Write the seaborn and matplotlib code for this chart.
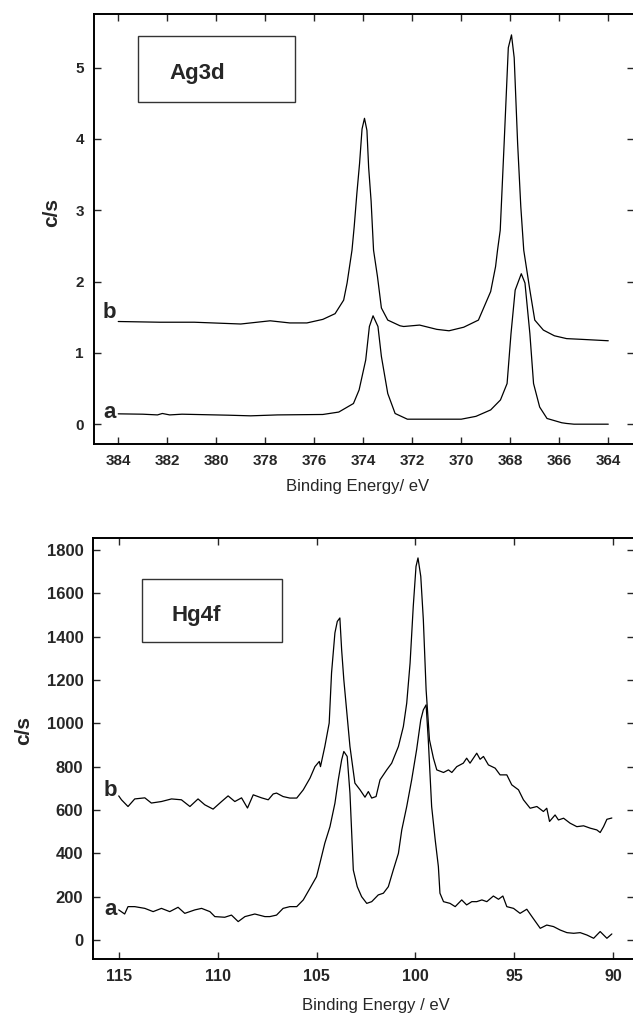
import matplotlib.pyplot as plt
import matplotlib.patches as mpatches
import pandas as pd
import seaborn as sns

# Ag3d spectra (binding energy in eV, counts in c/s)
ag_a_be = [384.0, 383.0, 382.4, 382.2, 381.9, 381.4, 379.5, 378.6, 377.5, 375.65, 375.0,
           374.4, 374.17, 373.9, 373.75, 373.6, 373.4, 373.26, 373.0, 372.7, 372.2, 370.0,
           369.4, 368.8, 368.4, 368.13, 367.97, 367.8, 367.55, 367.4, 367.2, 367.05, 366.8,
           366.5, 365.9, 365.7, 365.4, 364.0]
ag_a_cps = [0.145, 0.14, 0.13, 0.15, 0.13, 0.14, 0.126, 0.117, 0.13, 0.136, 0.17,
            0.29, 0.48, 0.9, 1.37, 1.52, 1.37, 0.95, 0.43, 0.15, 0.07, 0.07,
            0.11, 0.2, 0.34, 0.57, 1.27, 1.88, 2.11, 1.98, 1.27, 0.57, 0.24,
            0.08, 0.02, 0.01, 0.0, 0.0]

ag_b_be = [384.0, 382.3, 380.9, 379.0, 377.8, 377.0, 376.3, 375.65, 375.15, 374.8, 374.66,
           374.46, 374.37, 374.26, 374.15, 374.05, 373.95, 373.85, 373.78, 373.68, 373.58,
           373.42, 373.26, 373.0, 372.5, 372.35, 371.7, 371.0, 370.5, 369.9, 369.3, 368.8,
           368.6, 368.52, 368.41, 368.25, 368.08, 367.95, 367.84, 367.7, 367.57, 367.45,
           367.2, 367.0, 366.65, 366.2, 365.7, 365.1, 364.0]
ag_b_cps = [1.44, 1.43, 1.43, 1.405, 1.45, 1.42, 1.42, 1.47, 1.55, 1.74, 1.98,
            2.44, 2.77, 3.24, 3.66, 4.14, 4.29, 4.12, 3.6, 3.13, 2.44,
            2.07, 1.63, 1.46, 1.38, 1.37, 1.39, 1.33, 1.31, 1.36, 1.46, 1.86,
            2.21, 2.44, 2.72, 3.94, 5.28, 5.46, 5.14, 3.94, 3.05, 2.44,
            1.88, 1.46, 1.32, 1.24, 1.2, 1.19, 1.17]

# Hg4f spectra
hg_a_be = [115.0, 114.7, 114.53, 114.19, 113.68, 113.26, 112.84, 112.42, 112.0, 111.66,
           111.15, 110.81, 110.39, 110.14, 109.64, 109.3, 108.96, 108.62, 108.12, 107.61,
           107.36, 107.02, 106.69, 106.35, 106.0, 105.67, 105.33, 105.0, 104.83, 104.58,
           104.32, 104.07, 103.9, 103.73, 103.62, 103.45, 103.31, 103.14, 102.94, 102.72,
           102.46, 102.21, 101.88, 101.62, 101.37, 101.12, 100.86, 100.69, 100.44, 100.19,
           99.94, 99.73, 99.6, 99.46, 99.35, 99.18, 99.0, 98.84, 98.76, 98.58, 98.25,
           97.99, 97.66, 97.41, 97.15, 96.9, 96.64, 96.39, 96.06, 95.8, 95.58, 95.38,
           95.04, 94.71, 94.37, 94.11, 93.69, 93.36, 93.02, 92.68, 92.34, 92.0, 91.67,
           91.33, 90.99, 90.66, 90.32, 90.07]
hg_a_cps = [139, 120, 154, 154, 146, 131, 146, 131, 151, 123,
            139, 146, 131, 108, 105, 115, 85, 108, 120, 108,
            108, 115, 146, 154, 154, 185, 239, 292, 354, 447,
            523, 631, 739, 831, 870, 847, 678, 323, 246, 200,
            169, 177, 208, 216, 246, 323, 400, 508, 616, 739,
            878, 1016, 1062, 1085, 924, 616, 462, 339, 216, 177, 169,
            154, 185, 162, 177, 177, 185, 177, 203, 188, 203, 154,
            146, 123, 142, 108, 54, 69, 62, 46, 34, 31, 34,
            23, 8, 39, 8, 28]

hg_b_be = [115.0, 114.86, 114.53, 114.19, 113.68, 113.35, 112.84, 112.33, 111.83, 111.4,
           110.99, 110.65, 110.23, 109.8, 109.47, 109.13, 108.79, 108.49, 108.2, 107.78,
           107.44, 107.19, 107.02, 106.69, 106.35, 106.0, 105.67, 105.33, 105.08, 104.86,
           104.8, 104.58, 104.36, 104.24, 104.07, 103.95, 103.82, 103.73, 103.62, 103.48,
           103.31, 103.06, 102.8, 102.55, 102.38, 102.21, 101.99, 101.79, 101.45, 101.2,
           100.86, 100.61, 100.44, 100.27, 100.11, 99.97, 99.87, 99.73, 99.6, 99.46,
           99.29, 99.09, 98.92, 98.58, 98.33, 98.16, 97.91, 97.58, 97.41, 97.24, 96.9,
           96.73, 96.56, 96.31, 95.97, 95.72, 95.38, 95.13, 94.79, 94.54, 94.2, 93.86,
           93.53, 93.36, 93.22, 92.94, 92.77, 92.51, 92.18, 91.84, 91.5, 91.16, 90.83,
           90.66, 90.49, 90.32, 90.07]
hg_b_cps = [665, 647, 616, 651, 656, 632, 639, 651, 647, 616,
            651, 624, 604, 639, 665, 639, 656, 609, 670, 656,
            647, 674, 678, 662, 655, 655, 693, 747, 800, 824,
            800, 893, 1001, 1233, 1417, 1470, 1486, 1339, 1201, 1062,
            893, 724, 693, 659, 685, 655, 662, 739, 785, 816,
            893, 985, 1093, 1278, 1539, 1724, 1763, 1678, 1478, 1155,
            924, 839, 785, 773, 785, 773, 800, 816, 839, 816, 862,
            834, 847, 808, 793, 762, 762, 716, 693, 647, 608, 616,
            593, 608, 547, 577, 554, 562, 539, 523, 527, 516, 508,
            496, 523, 557, 563]

ag_xticks = [384, 382, 380, 378, 376, 374, 372, 370, 368, 366, 364]
ag_yticks = [0, 1, 2, 3, 4, 5]
hg_xticks = [115, 110, 105, 100, 95, 90]
hg_yticks = [0, 200, 400, 600, 800, 1000, 1200, 1400, 1600, 1800]


def make_df(be, cps):
    return pd.DataFrame({'BE': be, 'cps': cps})


def style_axes(ax, xticks, yticks, xsize, ysize):
    ax.set_xticks(xticks)
    ax.set_yticks(yticks)
    ax.tick_params(direction='in', top=True, right=True, length=5, width=1, pad=7)
    ax.tick_params(axis='x', labelsize=xsize)
    ax.tick_params(axis='y', labelsize=ysize)
    for side in ['left', 'bottom', 'top', 'right']:
        ax.spines[side].set_linewidth(1.4)
        ax.spines[side].set_color('black')


def main():
    sns.set_style("ticks")
    plt.rcParams['font.family'] = ['Liberation Sans', 'DejaVu Sans']
    plt.rcParams['font.weight'] = 'bold'

    fig = plt.figure(figsize=(6.33, 10.13), dpi=100)
    W, H = 633.0, 1013.0

    # --- Ag3d ---
    ax1 = fig.add_axes([93.5 / W, 1 - 444 / H, 540.5 / W, 430 / H])
    for be, cps in [(ag_a_be, ag_a_cps), (ag_b_be, ag_b_cps)]:
        sns.lineplot(x='BE', y='cps', data=make_df(be, cps), ax=ax1,
                     color='black', linewidth=0.9)
    ax1.set_xlim(385.01, 362.95)
    ax1.set_ylim(-0.278, 5.753)
    style_axes(ax1, ag_xticks, ag_yticks, 11, 11)
    ax1.set_xlabel('Binding Energy/ eV', fontsize=12, fontweight='normal')
    ax1.xaxis.set_label_coords(0.489, -0.0977)
    ax1.xaxis.label.set_va('center')
    ax1.set_ylabel('c/s', fontsize=15, fontweight='bold')
    ax1.yaxis.set_label_coords(-0.0768, 0.5395)
    ax1.yaxis.label.set_va('center')
    ax1.text(384.1, 1.57, 'b', ha='right', va='center', fontsize=16, fontweight='bold')
    ax1.text(384.1, 0.17, 'a', ha='right', va='center', fontsize=16, fontweight='bold')
    ax1.add_patch(mpatches.Rectangle((0.0823, 0.7953), 0.2905, 0.1535, transform=ax1.transAxes,
                                     fill=False, edgecolor='#333333', linewidth=1.0))
    ax1.text(0.1397, 0.8605, 'Ag3d', transform=ax1.transAxes, ha='left', va='center',
             fontsize=16, fontweight='bold')

    # --- Hg4f ---
    ax2 = fig.add_axes([93 / W, 1 - 959.3 / H, 541 / W, 421.3 / H])
    for be, cps in [(hg_a_be, hg_a_cps), (hg_b_be, hg_b_cps)]:
        sns.lineplot(x='BE', y='cps', data=make_df(be, cps), ax=ax2,
                     color='black', linewidth=0.9)
    ax2.set_xlim(116.3, 88.95)
    ax2.set_ylim(-89, 1855)
    style_axes(ax2, hg_xticks, hg_yticks, 11.5, 12)
    ax2.set_xlabel('Binding Energy / eV', fontsize=12, fontweight='normal')
    ax2.xaxis.set_label_coords(0.523, -0.1085)
    ax2.xaxis.label.set_va('center')
    ax2.set_ylabel('c/s', fontsize=15, fontweight='bold')
    ax2.yaxis.set_label_coords(-0.129, 0.542)
    ax2.yaxis.label.set_va('center')
    ax2.text(115.1, 688, 'b', ha='right', va='center', fontsize=16, fontweight='bold')
    ax2.text(115.1, 139, 'a', ha='right', va='center', fontsize=16, fontweight='bold')
    ax2.add_patch(mpatches.Rectangle((0.0906, 0.7532), 0.2588, 0.1495, transform=ax2.transAxes,
                                     fill=False, edgecolor='#333333', linewidth=1.0))
    ax2.text(0.146, 0.8172, 'Hg4f', transform=ax2.transAxes, ha='left', va='center',
             fontsize=16, fontweight='bold')

    fig.savefig('out.png', dpi=100)
    plt.close(fig)


if __name__ == "__main__":
    main()
